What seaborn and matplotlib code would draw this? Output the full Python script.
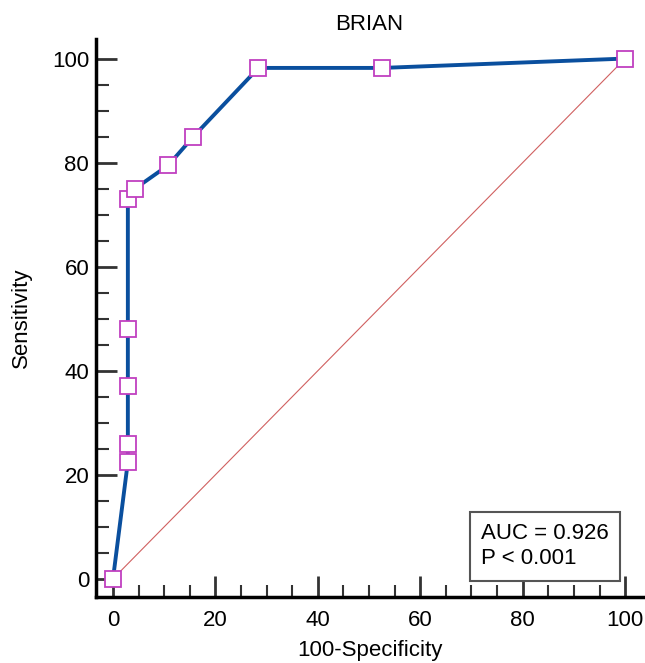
import numpy as np
import pandas as pd
import matplotlib
matplotlib.use("Agg")
import matplotlib.pyplot as plt
from matplotlib.ticker import MultipleLocator
import seaborn as sns

sns.set_style("ticks")
plt.rcParams["font.family"] = ["Liberation Sans", "DejaVu Sans"]
plt.rcParams["text.color"] = "black"
plt.rcParams["axes.labelcolor"] = "black"

# ROC curve points
fpr = [0, 2.9, 2.9, 2.9, 2.9, 2.9, 4.3, 10.8, 15.7, 28.4, 52.6, 100]
tpr = [0, 22.5, 26, 37, 48, 73, 75, 79.5, 85, 98.2, 98.2, 100]
diag_x = [0, 100]
diag_y = [0, 100]
title = "BRIAN"
stats_text = "AUC = 0.926\nP < 0.001"

df = pd.DataFrame({"fpr": fpr, "tpr": tpr})

fig = plt.figure(figsize=(6.45, 6.63), dpi=100)
ax = fig.add_axes([0.149, 0.0995, 0.848, 0.842])

ax.plot(diag_x, diag_y, color="#d06060", linewidth=0.8)
sns.lineplot(data=df, x="fpr", y="tpr", sort=False, estimator=None, ax=ax,
             color="#0a4f9e", linewidth=2.8, marker="s", markersize=11,
             markerfacecolor="white", markeredgecolor="#c040c0",
             markeredgewidth=1.3, zorder=3)

ax.set_xlim(-3.3, 103.5)
ax.set_ylim(-3.5, 103.8)
ax.xaxis.set_major_locator(MultipleLocator(20))
ax.yaxis.set_major_locator(MultipleLocator(20))
ax.xaxis.set_minor_locator(MultipleLocator(5))
ax.yaxis.set_minor_locator(MultipleLocator(5))
ax.tick_params(which="major", direction="in", length=15, width=2, color="#333333",
               labelsize=16, labelcolor="black")
ax.tick_params(axis="y", which="major", pad=5)
ax.tick_params(axis="x", which="major", pad=9)
ax.tick_params(which="minor", direction="in", length=9, width=1.5, color="#333333")
for side in ["top", "right"]:
    ax.spines[side].set_visible(False)
for side in ["left", "bottom"]:
    ax.spines[side].set_linewidth(2.5)
    ax.spines[side].set_color("black")

ax.set_title(title, fontsize=16, pad=6)
ax.set_xlabel("100-Specificity", fontsize=16, labelpad=7)
ax.set_ylabel("Sensitivity", fontsize=16, labelpad=14)

ax.text(71.8, 1.8, stats_text, fontsize=16, linespacing=1.3, va="bottom", ha="left",
        bbox=dict(boxstyle="square,pad=0.5", facecolor="white", edgecolor="#555555",
                  linewidth=1.5))

fig.savefig("out.png", dpi=100)
